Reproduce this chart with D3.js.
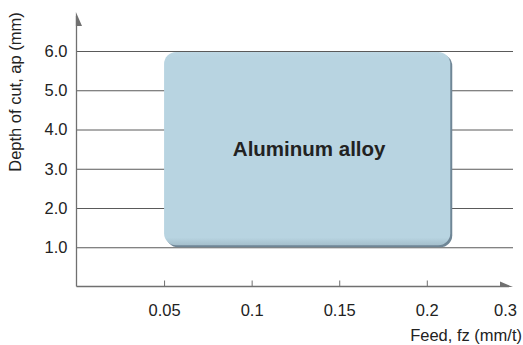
<!DOCTYPE html>
<html>
<head>
<meta charset="utf-8">
<script src="https://cdn.jsdelivr.net/npm/d3@7"></script>
<style>
  html, body { margin: 0; padding: 0; background: #fff; }
  svg { display: block; font-family: "Liberation Sans", Arial, Helvetica, sans-serif; }
</style>
</head>
<body>
<svg id="chart" width="523" height="345"></svg>
<script>
// ---- data ----
const xTickValues = [0.05, 0.1, 0.15, 0.2, 0.3];
const xTickLabels = ["0.05", "0.1", "0.15", "0.2", "0.3"];
const yTickValues = [1, 2, 3, 4, 5, 6];
const yTickLabels = ["1.0", "2.0", "3.0", "4.0", "5.0", "6.0"];
const regionFeed = [0.05, 0.23];
const regionDepth = [1.0, 6.0];
const regionLabel = "Aluminum alloy";
const xTitle = "Feed, fz (mm/t)";
const yTitle = "Depth of cut, ap (mm)";

// ---- layout ----
const svg = d3.select("#chart");
const x0 = 76.5, xEnd = 513, yBase = 286.5, yTop = 12;

const x = d3.scaleLinear().domain([0, 0.2, 0.3]).range([x0, 426.8, 505]);
const y = d3.scaleLinear().domain([0, 6]).range([yBase, 51]);

const axisColor = "#707070";
const textColor = "#222";
const fs = "16.5px";

// gridlines + y labels
const yAxis = d3.axisLeft(y)
  .tickValues(yTickValues)
  .tickFormat((d, i) => yTickLabels[i])
  .tickSize(-(xEnd - x0))
  .tickPadding(9);
const gy = svg.append("g").attr("transform", `translate(${x0},0)`).call(yAxis);
gy.select(".domain").remove();
gy.selectAll(".tick line").attr("stroke", "#5a5a5a").attr("stroke-width", 1);
gy.selectAll(".tick text").attr("fill", textColor).style("font-size", fs)
  .style("font-family", "'Liberation Sans', Arial, sans-serif");

// region box (shadow + main)
const rx = x(regionFeed[0]), rw = x(regionFeed[1]) - x(regionFeed[0]);
const ry = y(regionDepth[1]) + 1, rh = y(regionDepth[0]) - y(regionDepth[1]) - 3;
svg.append("rect")
  .attr("x", rx + 2).attr("y", ry + 2).attr("width", rw).attr("height", rh)
  .attr("rx", 12).attr("fill", "#6f8696");
const defs = svg.append("defs");
const grad = defs.append("linearGradient").attr("id", "g1").attr("x1", 0).attr("y1", 0).attr("x2", 0).attr("y2", 1);
grad.append("stop").attr("offset", "0").attr("stop-color", "#bdd7e3");
grad.append("stop").attr("offset", "0.03").attr("stop-color", "#b8d4e1");
grad.append("stop").attr("offset", "0.96").attr("stop-color", "#b8d4e1");
grad.append("stop").attr("offset", "1").attr("stop-color", "#a5bfcc");
svg.append("rect")
  .attr("x", rx).attr("y", ry).attr("width", rw).attr("height", rh)
  .attr("rx", 12).attr("fill", "url(#g1)");

svg.append("text")
  .attr("x", rx + rw / 2 + 2).attr("y", ry + rh / 2 + 7)
  .attr("text-anchor", "middle")
  .attr("fill", textColor)
  .style("font-size", "20.5px").style("font-weight", "bold")
  .text(regionLabel);

// x axis
const xAxis = d3.axisBottom(x)
  .tickValues(xTickValues)
  .tickFormat((d, i) => xTickLabels[i])
  .tickSizeInner(-6)
  .tickSizeOuter(0)
  .tickPadding(18);
const gx = svg.append("g").attr("transform", `translate(0,${yBase})`).call(xAxis);
gx.select(".domain").remove();
gx.selectAll(".tick line").attr("stroke", axisColor).attr("stroke-width", 1)
  .attr("display", d => d === 0.3 ? "none" : null);
gx.selectAll(".tick text").attr("fill", textColor).style("font-size", fs)
  .style("font-family", "'Liberation Sans', Arial, sans-serif");

// axis lines
svg.append("line").attr("x1", x0).attr("x2", xEnd - 4).attr("y1", yBase).attr("y2", yBase)
  .attr("stroke", axisColor).attr("stroke-width", 1.3);
svg.append("line").attr("x1", x0).attr("x2", x0).attr("y1", yBase).attr("y2", yTop + 4)
  .attr("stroke", axisColor).attr("stroke-width", 1.3);
// half arrows
svg.append("path")
  .attr("d", `M${x0 - 0.6},${yTop} L${x0 + 5.5},${yTop + 14} L${x0 - 0.6},${yTop + 14} Z`)
  .attr("fill", axisColor);
svg.append("path")
  .attr("d", `M${xEnd},${yBase + 0.6} L${xEnd - 13},${yBase - 5} L${xEnd - 13},${yBase + 0.6} Z`)
  .attr("fill", axisColor);

// titles
svg.append("text")
  .attr("transform", `translate(21,92) rotate(-90)`)
  .attr("text-anchor", "middle")
  .attr("fill", textColor)
  .style("font-size", fs)
  .text(yTitle);
svg.append("text")
  .attr("x", 522).attr("y", 341)
  .attr("text-anchor", "end")
  .attr("fill", textColor)
  .style("font-size", fs)
  .text(xTitle);
</script>
</body>
</html>
